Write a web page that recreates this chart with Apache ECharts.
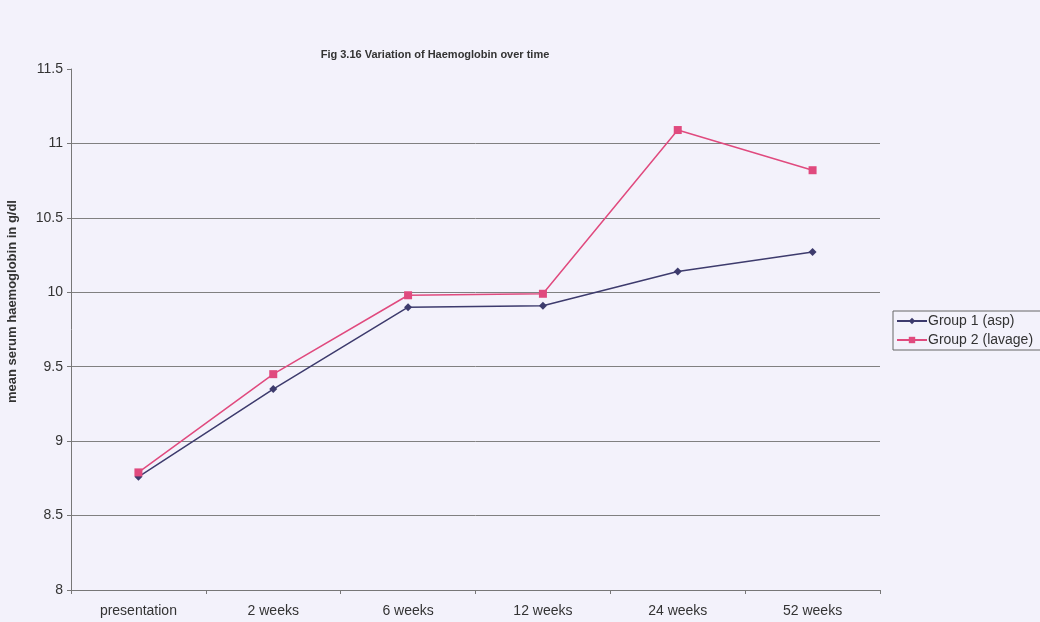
<!DOCTYPE html>
<html>
<head>
<meta charset="utf-8">
<script src="https://cdn.jsdelivr.net/npm/echarts@6/dist/echarts.min.js"></script>
<style>
  html, body { margin: 0; padding: 0; background: #f3f2fb; }
  #chart { width: 1040px; height: 622px; }
</style>
</head>
<body>
<div id="chart"></div>
<script>
const categories = ['presentation', '2 weeks', '6 weeks', '12 weeks', '24 weeks', '52 weeks'];
const group1 = [8.76, 9.35, 9.90, 9.91, 10.14, 10.27];
const group2 = [8.79, 9.45, 9.98, 9.99, 11.09, 10.82];
const yTicks = { min: 8, max: 11.5, interval: 0.5 };

const font = 'Liberation Sans, Arial, sans-serif';
const chart = echarts.init(document.getElementById('chart'));

chart.setOption({
  animation: false,
  backgroundColor: '#f3f2fb',
  title: {
    text: 'Fig 3.16 Variation of Haemoglobin over time',
    left: 430, top: 44, textAlign: 'center',
    textStyle: { fontFamily: font, fontSize: 11, fontWeight: 'bold', color: '#333' }
  },
  legend: {
    orient: 'vertical',
    left: 893, top: 311,
    padding: [3, 30, 3, 3],
    itemGap: 5,
    itemWidth: 30, itemHeight: 8,
    borderColor: '#666', borderWidth: 1,
    textStyle: { fontFamily: font, fontSize: 14, color: '#333', padding: [0, 0, 0, -4] },
    data: ['Group 1 (asp)', 'Group 2 (lavage)']
  },
  grid: { left: 71, right: 160, top: 69, bottom: 32, outerBoundsMode: 'none', containLabel: false },
  xAxis: {
    type: 'category',
    data: categories,
    boundaryGap: true,
    axisLine: { lineStyle: { color: '#777' } },
    axisTick: { show: true, length: 4, lineStyle: { color: '#777' } },
    axisLabel: { fontFamily: font, fontSize: 14, color: '#333', margin: 14 }
  },
  yAxis: {
    type: 'value',
    min: yTicks.min, max: yTicks.max, interval: yTicks.interval,
    name: 'mean serum haemoglobin in g/dl',
    nameLocation: 'middle', nameGap: 52,
    nameTextStyle: { fontFamily: font, fontSize: 13, fontWeight: 'bold', color: '#333', padding: [0, 0, 0, 56] },
    axisLine: { show: true, lineStyle: { color: '#777' } },
    axisTick: { show: true, length: 4, lineStyle: { color: '#777' } },
    axisLabel: { fontFamily: font, fontSize: 14, color: '#333', margin: 8 },
    splitLine: { showMaxLine: false, lineStyle: { color: '#808080', width: 1 } }
  },
  series: [
    {
      name: 'Group 1 (asp)', type: 'line', data: group1,
      symbol: 'diamond', symbolSize: 8,
      itemStyle: { color: '#3d3b6d' },
      lineStyle: { color: '#3d3b6d', width: 1.5 }
    },
    {
      name: 'Group 2 (lavage)', type: 'line', data: group2,
      symbol: 'rect', symbolSize: 8,
      itemStyle: { color: '#e04a7e' },
      lineStyle: { color: '#e04a7e', width: 1.5 }
    }
  ]
});
</script>
</body>
</html>
